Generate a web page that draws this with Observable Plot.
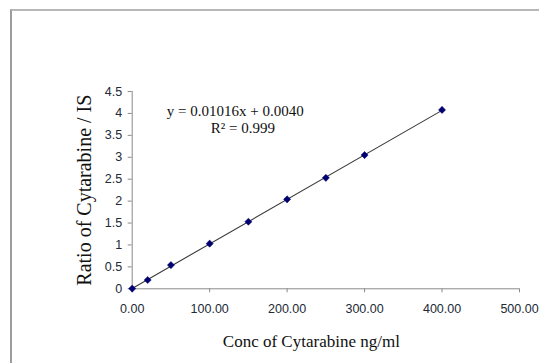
<!DOCTYPE html>
<html>
<head>
<meta charset="utf-8">
<script src="https://cdn.jsdelivr.net/npm/d3@7"></script>
<script src="https://cdn.jsdelivr.net/npm/@observablehq/plot@0.6"></script>
<style>
  html, body { margin: 0; padding: 0; background: #fff; }
  #wrap { position: relative; width: 539px; height: 363px; overflow: hidden; }
  #border { position: absolute; left: 10px; top: 9px; width: 600px; height: 400px;
            border-top: 2px solid #b8b8b8; border-left: 2px solid #9c9c9c; pointer-events: none; z-index: 2; }
</style>
</head>
<body>
<div id="wrap"><div id="border"></div></div>
<script>
// Concentration (ng/ml)
const conc = [0, 20, 50, 100, 150, 200, 250, 300, 400];
// Ratio of Cytarabine / IS
const ratio = [0.004, 0.20, 0.54, 1.03, 1.53, 2.04, 2.53, 3.05, 4.08];
const xTicks = [0, 100, 200, 300, 400, 500];
const yTicks = [0, 0.5, 1, 1.5, 2, 2.5, 3, 3.5, 4, 4.5];
const equation = "y = 0.01016x + 0.0040";
const rSquared = "R² = 0.999";
const xTitle = "Conc of Cytarabine ng/ml";
const yTitle = "Ratio of Cytarabine / IS";

const data = conc.map((c, i) => ({x: c, y: ratio[i]}));

const tickFont = "'Liberation Sans Narrow', 'Arial Narrow', 'Liberation Sans', sans-serif";
const serif = "'Liberation Serif', 'Times New Roman', serif";

const chart = Plot.plot({
  width: 539,
  height: 363,
  marginLeft: 131.7,
  marginRight: 20,
  marginTop: 91,
  marginBottom: 74.7,
  style: {background: "transparent", overflow: "visible"},
  x: {domain: [0, 500]},
  y: {domain: [0, 4.5]},
  marks: [
    Plot.axisX({ticks: xTicks, tickFormat: d3.format(".2f"), tickSize: 4, tickPadding: 11,
      stroke: "#8a8a8a", label: null, fontSize: 12.5, fontFamily: tickFont, fill: "#222a36"}),
    Plot.axisY({ticks: yTicks, tickFormat: d => String(d), tickSize: 4, tickPadding: 6,
      stroke: "#8a8a8a", label: null, fontSize: 12.5, fontFamily: tickFont, fill: "#222a36"}),
    Plot.ruleY([0], {stroke: "#8a8a8a", strokeWidth: 1}),
    Plot.ruleX([0], {stroke: "#8a8a8a", strokeWidth: 1}),
    Plot.linearRegressionY(data, {x: "x", y: "y", ci: 0, stroke: "#3a3a3a", strokeWidth: 1.1}),
    Plot.dot(data, {x: "x", y: "y", symbol: "diamond2", r: 3.2, fill: "#000070", stroke: "#000070", strokeWidth: 0.5}),
    Plot.text([equation], {x: 133, y: 3.93, text: d => d, textAnchor: "middle", lineAnchor: "bottom",
      fontSize: 15, fontFamily: serif, fill: "#111"}),
    Plot.text([rSquared], {x: 143, y: 3.56, text: d => d, textAnchor: "middle", lineAnchor: "bottom",
      fontSize: 15, fontFamily: serif, fill: "#111"}),
    Plot.text([xTitle], {frameAnchor: "bottom", dx: -14.5, dy: 57.7, text: d => d, textAnchor: "middle", lineAnchor: "bottom",
      fontSize: 17, fontFamily: serif, fill: "#111"}),
    Plot.text([yTitle], {frameAnchor: "left", dx: -41.7, rotate: -90, text: d => d, textAnchor: "middle", lineAnchor: "bottom",
      fontSize: 20, fontFamily: serif, fill: "#111"})
  ]
});
document.getElementById("wrap").prepend(chart);
chart.style.position = "absolute";
chart.style.left = "0";
chart.style.top = "0";
</script>
</body>
</html>
